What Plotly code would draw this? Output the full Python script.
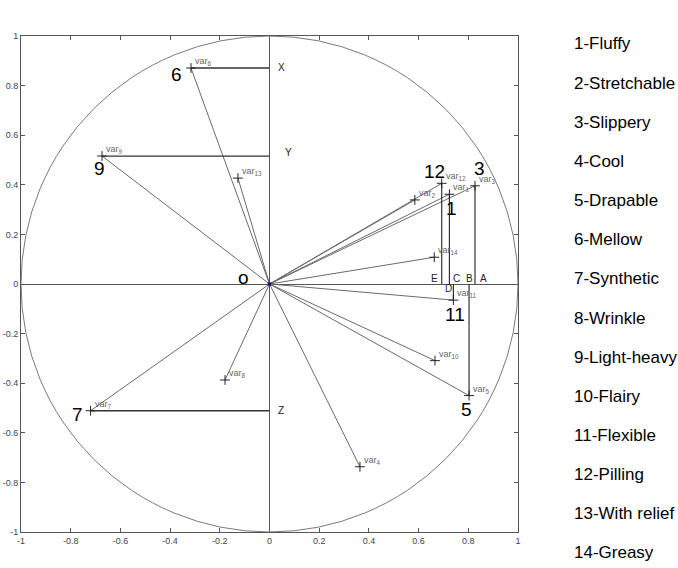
import plotly.graph_objects as go

var_ids = [1, 2, 3, 4, 5, 6, 7, 8, 9, 10, 11, 12, 13, 14]
var_x = [0.724, 0.585, 0.827, 0.364, 0.803, -0.316, -0.720, -0.179, -0.674, 0.666, 0.740, 0.693, -0.127, 0.663]
var_y = [0.362, 0.339, 0.396, -0.737, -0.450, 0.871, -0.511, -0.387, 0.516, -0.309, -0.065, 0.406, 0.427, 0.108]
var_names = ["Fluffy", "Stretchable", "Slippery", "Cool", "Drapable", "Mellow", "Synthetic",
             "Wrinkle", "Light-heavy", "Flairy", "Flexible", "Pilling", "With relief", "Greasy"]
tick_vals = [-1, -0.8, -0.6, -0.4, -0.2, 0, 0.2, 0.4, 0.6, 0.8, 1]
tick_text = ["-1", "-0.8", "-0.6", "-0.4", "-0.2", "0", "0.2", "0.4", "0.6", "0.8", "1"]

# big number labels: variable id -> pixel offset (dx, dy up)
big_labels = {6: (-14, -7), 9: (-3, -12), 12: (-7, 12), 3: (4, 17), 1: (2, -14), 11: (2, -14), 5: (-3, -14), 7: (-13, -4)}
# horizontal projections onto the vertical axis, with letters
h_proj = {6: "X", 9: "Y", 7: "Z"}
# vertical projections onto the horizontal axis
v_proj = [12, 1, 3, 11, 5]

LINE = "#6a6a6a"
DARK = "#333333"
FONT = "Liberation Sans, Arial, sans-serif"

fig = go.Figure()

# unit circle
fig.add_shape(type="circle", xref="x", yref="y", x0=-1, y0=-1, x1=1, y1=1,
              line=dict(color="#7a7a7a", width=1))

# vectors from origin
for i in range(len(var_ids)):
    fig.add_trace(go.Scatter(x=[0, var_x[i]], y=[0, var_y[i]], mode="lines",
                             line=dict(color=LINE, width=1), hoverinfo="skip", showlegend=False))

# horizontal projection lines
for vid, letter in h_proj.items():
    i = var_ids.index(vid)
    fig.add_trace(go.Scatter(x=[var_x[i], 0], y=[var_y[i], var_y[i]], mode="lines",
                             line=dict(color=DARK, width=1.3), hoverinfo="skip", showlegend=False))
    fig.add_annotation(x=0, y=var_y[i], text=letter, showarrow=False, xanchor="left",
                       xshift=6 if letter != "Y" else 13, yshift=0 if letter != "Y" else 4,
                       font=dict(family=FONT, size=10, color="#222"))

# vertical projection lines
for vid in v_proj:
    i = var_ids.index(vid)
    fig.add_trace(go.Scatter(x=[var_x[i], var_x[i]], y=[var_y[i], 0], mode="lines",
                             line=dict(color=DARK, width=1.2), hoverinfo="skip", showlegend=False))

# markers
fig.add_trace(go.Scatter(x=var_x, y=var_y, mode="markers",
                         marker=dict(symbol="cross-thin", size=7, line=dict(color="#222", width=1)),
                         hoverinfo="skip", showlegend=False))
fig.add_trace(go.Scatter(x=[0], y=[0], mode="markers",
                         marker=dict(symbol="circle", size=4, color="#1a1a80"),
                         hoverinfo="skip", showlegend=False))

# var labels
for i, vid in enumerate(var_ids):
    fig.add_annotation(x=var_x[i], y=var_y[i], text=f"var<sub>{vid}</sub>", showarrow=False,
                       xanchor="left", yanchor="bottom", xshift=2, yshift=-1,
                       font=dict(family=FONT, size=9, color="#666"))

# big number labels
for vid, (dx, dy) in big_labels.items():
    i = var_ids.index(vid)
    fig.add_annotation(x=var_x[i], y=var_y[i], text=str(vid), showarrow=False,
                       xshift=dx, yshift=dy, font=dict(family=FONT, size=19, color="#000"))
fig.add_annotation(x=0, y=0, text="o", showarrow=False, xshift=-26, yshift=7,
                   font=dict(family=FONT, size=19, color="#000"))

# letter labels near the horizontal axis
def vx(vid):
    return var_x[var_ids.index(vid)]

letters = [("A", vx(3), 8, 6), ("B", vx(5), 0, 6), ("C", vx(1), 7, 6), ("D", vx(1), -1, -4), ("E", vx(12), -7, 6)]
for t, x, dx, dy in letters:
    fig.add_annotation(x=x, y=0, text=t, showarrow=False, xshift=dx, yshift=dy,
                       font=dict(family=FONT, size=10, color="#222"))

# legend list on the right
for k, (vid, name) in enumerate(zip(var_ids, var_names)):
    fig.add_annotation(xref="paper", yref="paper", x=1.109, y=1 - (8 + k * 39.15) / 496,
                       text=f"{vid}-{name}", showarrow=False, xanchor="left", yanchor="middle",
                       font=dict(family=FONT, size=17, color="#000"))

axis_common = dict(range=[-1, 1], tickvals=tick_vals, ticktext=tick_text, ticks="inside",
                   ticklen=4, tickcolor="#555", showline=True, linecolor="#555", linewidth=1,
                   mirror="ticks", showgrid=False, zeroline=True, zerolinecolor="#555",
                   zerolinewidth=1, automargin=False,
                   tickfont=dict(family=FONT, size=9, color="#444"))

fig.update_layout(
    width=678, height=568,
    margin=dict(l=21, r=160, t=36, b=36),
    paper_bgcolor="white", plot_bgcolor="white",
    xaxis=dict(**axis_common),
    yaxis=dict(**axis_common),
    showlegend=False,
)

fig.write_html("out.html", config={"displayModeBar": False},
               post_script="document.body.style.margin='0';document.body.style.overflow='hidden';")
